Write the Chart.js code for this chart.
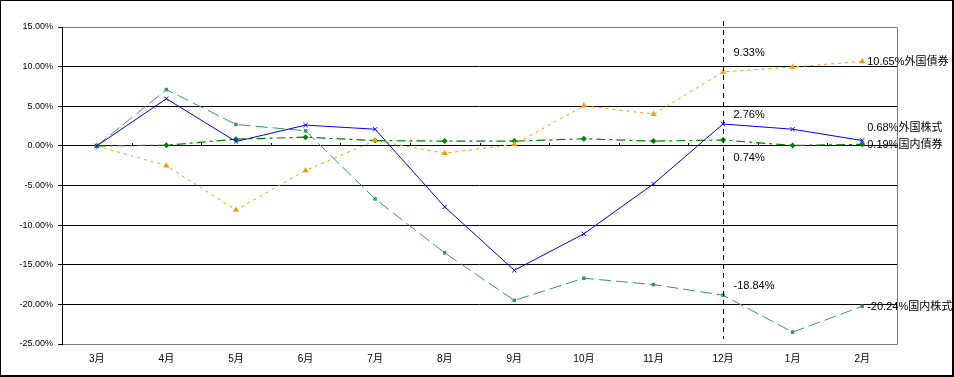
<!DOCTYPE html>
<html><head><meta charset="utf-8">
<script src="https://cdn.jsdelivr.net/npm/chart.js@4"></script>
<style>html,body{margin:0;padding:0;background:#fff}#wrap{width:954px;height:377px;position:relative}</style>
</head><body><div id="wrap"><canvas id="c" width="954" height="377"></canvas></div>
<script>
const categories = ['3月','4月','5月','6月','7月','8月','9月','10月','11月','12月','1月','2月'];
const seriesNames = ['外国株式','国内株式','外国債券','国内債券'];
const foreignStocks = [0, 5.95, 0.55, 2.62, 2.1, -7.7, -15.7, -11.1, -4.8, 2.76, 2.1, 0.68];
const domesticStocks = [0, 7.1, 2.7, 1.9, -6.7, -13.5, -19.5, -16.7, -17.5, -18.84, -23.5, -20.24];
const foreignBonds = [0, -2.5, -8.1, -3.1, 0.67, -0.93, 0.2, 5.06, 4.0, 9.33, 9.96, 10.65];
const domesticBonds = [0, 0.08, 0.85, 1.1, 0.67, 0.6, 0.6, 0.9, 0.6, 0.74, 0.05, 0.19];
const yTicks = [15, 10, 5, 0, -5, -10, -15, -20, -25];
const markerIndex = 9; // 12月
const markerNotes = [
  {series: 2, text: '9.33%', dy: -19},
  {series: 0, text: '2.76%', dy: -9},
  {series: 3, text: '0.74%', dy: 18},
  {series: 1, text: '-18.84%', dy: -9}
];
const endNotes = [
  {series: 2, text: '10.65%外国債券', dy: 0},
  {series: 0, text: '0.68%外国株式', dy: -13},
  {series: 3, text: '0.19%国内債券', dy: 1},
  {series: 1, text: '-20.24%国内株式', dy: 1}
];

const FONT = '"Liberation Sans","Noto Sans CJK JP",sans-serif';

const decor = {
  id: 'decor',
  beforeDraw(chart) {
    const {ctx, width, height} = chart;
    ctx.save();
    ctx.fillStyle = '#fff';
    ctx.fillRect(0, 0, width, height);
    ctx.restore();
  },
  afterDatasetsDraw(chart) {
    const {ctx, chartArea: a, scales: {x, y}} = chart;
    ctx.save();
    ctx.strokeStyle = '#808080';
    ctx.lineWidth = 1;
    ctx.beginPath();
    ctx.moveTo(a.left, a.top + 0.5); ctx.lineTo(a.right + 0.5, a.top + 0.5);
    ctx.lineTo(a.right + 0.5, a.bottom + 0.5); ctx.lineTo(a.left, a.bottom + 0.5);
    ctx.stroke();
    ctx.strokeStyle = '#000';
    ctx.beginPath();
    ctx.moveTo(a.left + 0.5, a.top); ctx.lineTo(a.left + 0.5, a.bottom + 1);
    ctx.stroke();
    const y0 = Math.round(y.getPixelForValue(0));
    ctx.beginPath();
    for (let i = 0; i < categories.length - 1; i++) {
      const xb = Math.round((x.getPixelForValue(i) + x.getPixelForValue(i + 1)) / 2) + 0.5;
      ctx.moveTo(xb, y0 - 3); ctx.lineTo(xb, y0);
    }
    ctx.stroke();
    const xm = Math.round(x.getPixelForValue(markerIndex)) + 0.5;
    ctx.setLineDash([5, 4]);
    ctx.beginPath();
    ctx.moveTo(xm, a.top - 6); ctx.lineTo(xm, a.bottom - 5);
    ctx.stroke();
    ctx.setLineDash([]);
    ctx.fillStyle = '#000';
    ctx.font = '11px ' + FONT;
    ctx.textBaseline = 'middle';
    ctx.textAlign = 'left';
    markerNotes.forEach(n => {
      const v = chart.data.datasets[n.series].data[markerIndex];
      ctx.fillText(n.text, xm + 10, y.getPixelForValue(v) + n.dy);
    });
    const last = categories.length - 1;
    const xe = x.getPixelForValue(last) + 5;
    ctx.font = '11px ' + FONT;
    endNotes.forEach(n => {
      const v = chart.data.datasets[n.series].data[last];
      ctx.fillText(n.text, xe, y.getPixelForValue(v) + n.dy);
    });
    ctx.fillStyle = '#000';
    ctx.fillRect(0, 0, 954, 1);
    ctx.fillRect(0, 0, 1, 377);
    ctx.fillRect(952, 0, 2, 377);
    ctx.fillRect(0, 375, 954, 2);
    ctx.restore();
  }
};

new Chart(document.getElementById('c'), {
  type: 'line',
  data: {
    labels: categories,
    datasets: [
      {label: seriesNames[0], data: foreignStocks, borderColor: '#0000ff', backgroundColor: '#0000ff', borderWidth: 1,
       pointStyle: 'crossRot', pointRadius: 3, pointBorderWidth: 1, order: 1},
      {label: seriesNames[1], data: domesticStocks, borderColor: '#339966', backgroundColor: '#339966', borderWidth: 1,
       borderDash: [12, 5], pointStyle: 'rect', pointRadius: 2.5, pointBorderWidth: 0, order: 2},
      {label: seriesNames[2], data: foreignBonds, borderColor: '#ff9900', backgroundColor: '#ff9900', borderWidth: 1,
       borderDash: [3, 4], pointStyle: 'triangle', pointRadius: 3.5, pointBorderWidth: 0, order: 3},
      {label: seriesNames[3], data: domesticBonds, borderColor: '#008000', backgroundColor: '#008000', borderWidth: 1.2,
       borderDash: [9, 4, 3, 4], pointStyle: 'rectRot', pointRadius: 3, pointBorderWidth: 0, order: 4}
    ]
  },
  options: {
    responsive: false,
    animation: false,
    layout: {padding: {top: 27, right: 57, left: 0, bottom: 0}},
    plugins: {legend: {display: false}, tooltip: {enabled: false}},
    elements: {line: {tension: 0, fill: false}},
    scales: {
      x: {
        offset: true,
        grid: {display: false, drawTicks: false},
        border: {display: false},
        ticks: {color: '#000', font: {size: 10, family: FONT}, padding: 9, maxRotation: 0, autoSkip: false},
        afterFit(s) { s.height = 33; }
      },
      y: {
        min: -25, max: 15,
        afterBuildTicks(s) { s.ticks = yTicks.map(v => ({value: v})); },
        grid: {
          color: c => (c.tick && (c.tick.value === 15 || c.tick.value === -25)) ? '#808080' : '#000',
          tickColor: '#000', tickLength: 4, lineWidth: 1
        },
        border: {display: false},
        ticks: {color: '#000', font: {size: 9, family: FONT}, padding: 5,
                callback: v => v.toFixed(2) + '%'},
        afterFit(s) { s.width = 62; }
      }
    }
  },
  plugins: [decor]
});
</script>
</body></html>
